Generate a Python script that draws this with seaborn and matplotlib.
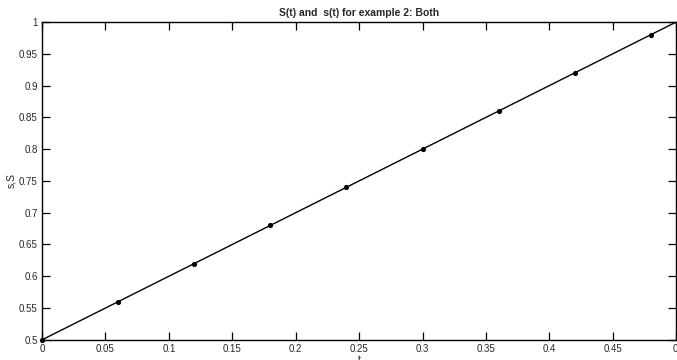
import numpy as np
import pandas as pd
import matplotlib
matplotlib.use("Agg")
import matplotlib.pyplot as plt
import seaborn as sns

# data
line_t = [0.0, 0.5]
line_s = [0.5, 1.0]
dot_t = [0.0, 0.06, 0.12, 0.18, 0.24, 0.30, 0.36, 0.42, 0.48]
dot_s = [0.50, 0.56, 0.62, 0.68, 0.74, 0.80, 0.86, 0.92, 0.98]

x_ticks = [0, 0.05, 0.1, 0.15, 0.2, 0.25, 0.3, 0.35, 0.4, 0.45, 0.5]
y_ticks = [0.5, 0.55, 0.6, 0.65, 0.7, 0.75, 0.8, 0.85, 0.9, 0.95, 1]

sns.set_style("white")
plt.rcParams['font.family'] = ['Liberation Sans', 'DejaVu Sans']

fig = plt.figure(figsize=(6.77, 3.6), dpi=100)
ax = fig.add_axes([0.062, 0.056, 0.937, 0.883])

sns.lineplot(x=line_t, y=line_s, color="black", linewidth=1.0, ax=ax)
sns.scatterplot(x=dot_t, y=dot_s, color="black", s=14, edgecolor="black", linewidth=0,
                ax=ax, zorder=3, clip_on=False)

ax.set_xlim(0, 0.5)
ax.set_ylim(0.5, 1)
ax.set_xticks(x_ticks)
ax.set_xticklabels([f"{v:g}" for v in x_ticks[:-1]] + ["0."])
ax.set_yticks(y_ticks)
ax.set_yticklabels([f"{v:g}" for v in y_ticks])
ax.tick_params(direction="in", length=5.5, width=0.9, labelsize=7, top=True, right=True,
               bottom=True, left=True, pad=3, color="black")
for sp in ax.spines.values():
    sp.set_color("black")
    sp.set_linewidth(1.0)

ax.set_title("S(t) and  s(t) for example 2: Both", fontsize=7.5, fontweight="bold", pad=4)
ax.set_ylabel("s,S", fontsize=7.5, labelpad=2)
ax.set_xlabel("t", fontsize=7.5, labelpad=1)

fig.savefig("out.png", dpi=100)
